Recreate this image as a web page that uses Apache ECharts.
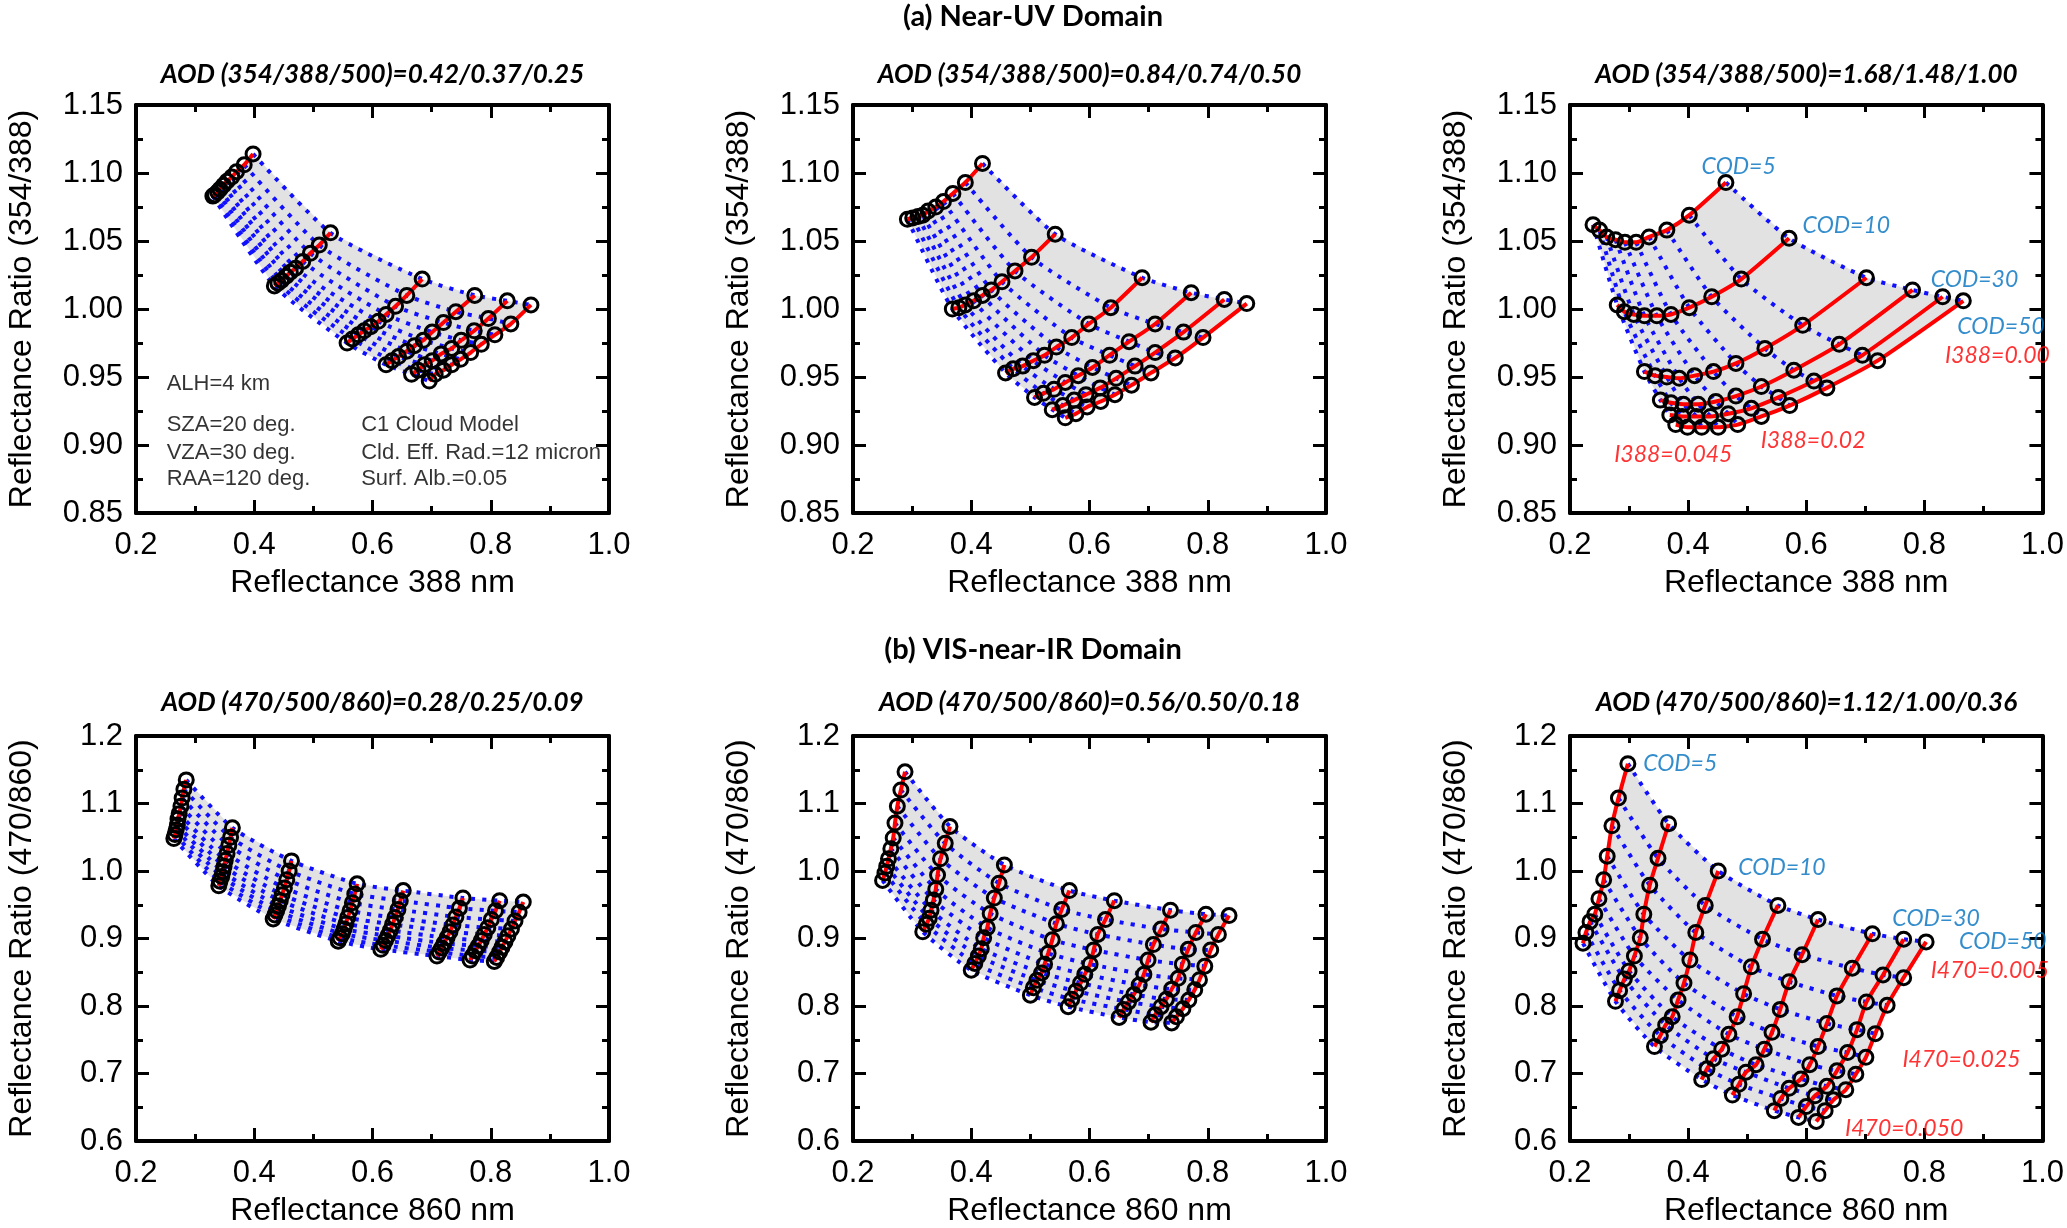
<!DOCTYPE html>
<html>
<head>
<meta charset="utf-8">
<script src="https://cdn.jsdelivr.net/npm/echarts@6.0.0/dist/echarts.min.js"></script>
<style>
html, body { margin: 0; padding: 0; background: #fff; }
#main { width: 2067px; height: 1228px; }
</style>
</head>
<body>
<div id="main"></div>
<script>
// one inner array per COD curve, points from the smallest absorption index to the largest

// (a) near-UV, AOD 0.42/0.37/0.25
var uvAx = [
    [0.398, 0.383, 0.370, 0.362, 0.354, 0.348, 0.342, 0.338, 0.333, 0.330],
    [0.529, 0.510, 0.495, 0.482, 0.470, 0.461, 0.454, 0.446, 0.440, 0.434],
    [0.684, 0.658, 0.639, 0.623, 0.610, 0.597, 0.586, 0.576, 0.566, 0.557],
    [0.773, 0.741, 0.720, 0.701, 0.686, 0.671, 0.658, 0.644, 0.633, 0.623],
    [0.828, 0.796, 0.772, 0.750, 0.734, 0.716, 0.701, 0.688, 0.677, 0.666],
    [0.868, 0.834, 0.807, 0.784, 0.766, 0.749, 0.734, 0.720, 0.706, 0.696]
];
var uvAy = [
    [1.114, 1.106, 1.101, 1.097, 1.094, 1.091, 1.088, 1.086, 1.084, 1.083],
    [1.056, 1.047, 1.041, 1.035, 1.030, 1.027, 1.024, 1.021, 1.019, 1.017],
    [1.022, 1.010, 1.002, 0.996, 0.991, 0.987, 0.984, 0.981, 0.978, 0.975],
    [1.010, 0.998, 0.990, 0.983, 0.977, 0.973, 0.969, 0.965, 0.962, 0.959],
    [1.006, 0.993, 0.984, 0.977, 0.971, 0.967, 0.962, 0.959, 0.955, 0.952],
    [1.003, 0.989, 0.981, 0.974, 0.968, 0.963, 0.959, 0.955, 0.952, 0.947]
];

// (a) near-UV, AOD 0.84/0.74/0.50
var uvBx = [
    [0.419, 0.390, 0.369, 0.353, 0.340, 0.327, 0.318, 0.310, 0.301, 0.292],
    [0.542, 0.502, 0.474, 0.452, 0.434, 0.419, 0.404, 0.390, 0.379, 0.368],
    [0.689, 0.636, 0.599, 0.570, 0.544, 0.524, 0.505, 0.487, 0.471, 0.458],
    [0.772, 0.711, 0.667, 0.634, 0.605, 0.581, 0.559, 0.540, 0.522, 0.507],
    [0.828, 0.759, 0.711, 0.677, 0.645, 0.618, 0.594, 0.574, 0.555, 0.537],
    [0.866, 0.792, 0.745, 0.704, 0.671, 0.643, 0.619, 0.596, 0.577, 0.559]
];
var uvBy = [
    [1.107, 1.093, 1.085, 1.079, 1.075, 1.072, 1.069, 1.068, 1.067, 1.066],
    [1.055, 1.038, 1.028, 1.020, 1.014, 1.010, 1.006, 1.003, 1.001, 1.000],
    [1.023, 1.001, 0.989, 0.979, 0.972, 0.966, 0.962, 0.958, 0.956, 0.953],
    [1.012, 0.989, 0.976, 0.966, 0.957, 0.951, 0.946, 0.941, 0.938, 0.935],
    [1.007, 0.983, 0.968, 0.958, 0.949, 0.942, 0.937, 0.933, 0.929, 0.926],
    [1.004, 0.979, 0.964, 0.953, 0.944, 0.937, 0.932, 0.928, 0.923, 0.920]
];

// (a) near-UV, AOD 1.68/1.48/1.00
var uvCx = [
    [0.464, 0.402, 0.364, 0.334, 0.312, 0.293, 0.277, 0.262, 0.250, 0.239],
    [0.571, 0.490, 0.440, 0.402, 0.371, 0.347, 0.326, 0.308, 0.292, 0.280],
    [0.702, 0.594, 0.530, 0.481, 0.443, 0.411, 0.385, 0.364, 0.344, 0.326],
    [0.780, 0.656, 0.579, 0.524, 0.481, 0.447, 0.417, 0.392, 0.371, 0.353],
    [0.831, 0.695, 0.613, 0.553, 0.507, 0.468, 0.438, 0.414, 0.390, 0.369],
    [0.866, 0.721, 0.635, 0.572, 0.524, 0.484, 0.451, 0.423, 0.399, 0.379]
];
var uvCy = [
    [1.093, 1.069, 1.058, 1.053, 1.049, 1.049, 1.051, 1.053, 1.058, 1.062],
    [1.052, 1.022, 1.009, 1.001, 0.996, 0.995, 0.995, 0.996, 0.998, 1.003],
    [1.023, 0.988, 0.971, 0.960, 0.954, 0.951, 0.949, 0.950, 0.951, 0.954],
    [1.014, 0.974, 0.955, 0.943, 0.936, 0.932, 0.930, 0.930, 0.931, 0.933],
    [1.009, 0.966, 0.947, 0.935, 0.927, 0.923, 0.921, 0.921, 0.921, 0.922],
    [1.006, 0.962, 0.942, 0.929, 0.921, 0.915, 0.913, 0.913, 0.913, 0.915]
];

// (b) VIS-near-IR, AOD 0.28/0.25/0.09
var visAx = [
    [0.285, 0.281, 0.278, 0.276, 0.273, 0.271, 0.270, 0.268, 0.266, 0.264],
    [0.363, 0.360, 0.357, 0.354, 0.351, 0.349, 0.347, 0.345, 0.342, 0.340],
    [0.463, 0.459, 0.455, 0.451, 0.447, 0.444, 0.441, 0.438, 0.435, 0.432],
    [0.574, 0.570, 0.566, 0.562, 0.558, 0.555, 0.552, 0.549, 0.545, 0.542],
    [0.652, 0.647, 0.643, 0.638, 0.634, 0.630, 0.626, 0.622, 0.618, 0.614],
    [0.753, 0.747, 0.741, 0.736, 0.731, 0.726, 0.721, 0.717, 0.713, 0.709],
    [0.815, 0.808, 0.801, 0.795, 0.789, 0.784, 0.779, 0.774, 0.769, 0.765],
    [0.855, 0.848, 0.841, 0.835, 0.829, 0.824, 0.819, 0.815, 0.810, 0.806]
];
var visAy = [
    [1.135, 1.121, 1.108, 1.096, 1.085, 1.077, 1.068, 1.061, 1.054, 1.048],
    [1.064, 1.050, 1.038, 1.026, 1.016, 1.007, 0.999, 0.992, 0.985, 0.978],
    [1.015, 1.000, 0.987, 0.975, 0.965, 0.956, 0.948, 0.941, 0.935, 0.929],
    [0.981, 0.966, 0.953, 0.941, 0.931, 0.922, 0.914, 0.907, 0.901, 0.896],
    [0.971, 0.956, 0.943, 0.931, 0.921, 0.912, 0.904, 0.897, 0.890, 0.884],
    [0.960, 0.945, 0.932, 0.920, 0.910, 0.901, 0.893, 0.886, 0.880, 0.874],
    [0.956, 0.941, 0.928, 0.916, 0.906, 0.897, 0.889, 0.882, 0.874, 0.868],
    [0.954, 0.939, 0.926, 0.914, 0.904, 0.895, 0.887, 0.880, 0.872, 0.866]
];

// (b) VIS-near-IR, AOD 0.56/0.50/0.18
var visBx = [
    [0.288, 0.281, 0.275, 0.271, 0.268, 0.264, 0.260, 0.257, 0.254, 0.250],
    [0.364, 0.356, 0.348, 0.343, 0.340, 0.336, 0.332, 0.329, 0.324, 0.318],
    [0.456, 0.447, 0.439, 0.432, 0.427, 0.421, 0.417, 0.412, 0.406, 0.400],
    [0.566, 0.553, 0.544, 0.537, 0.530, 0.524, 0.519, 0.511, 0.505, 0.500],
    [0.642, 0.627, 0.614, 0.607, 0.601, 0.592, 0.585, 0.577, 0.570, 0.564],
    [0.737, 0.721, 0.708, 0.699, 0.692, 0.684, 0.675, 0.666, 0.658, 0.650],
    [0.797, 0.780, 0.767, 0.757, 0.750, 0.739, 0.730, 0.721, 0.711, 0.704],
    [0.836, 0.818, 0.805, 0.795, 0.786, 0.778, 0.768, 0.758, 0.747, 0.739]
];
var visBy = [
    [1.147, 1.120, 1.096, 1.071, 1.049, 1.033, 1.018, 1.007, 0.997, 0.986],
    [1.066, 1.041, 1.018, 0.994, 0.973, 0.957, 0.942, 0.930, 0.921, 0.910],
    [1.009, 0.982, 0.960, 0.937, 0.916, 0.901, 0.885, 0.874, 0.863, 0.853],
    [0.971, 0.943, 0.922, 0.898, 0.878, 0.862, 0.849, 0.838, 0.827, 0.816],
    [0.956, 0.928, 0.906, 0.883, 0.862, 0.847, 0.834, 0.822, 0.810, 0.799],
    [0.942, 0.914, 0.891, 0.868, 0.847, 0.831, 0.817, 0.806, 0.795, 0.783],
    [0.936, 0.909, 0.884, 0.862, 0.841, 0.825, 0.810, 0.799, 0.787, 0.776],
    [0.934, 0.906, 0.883, 0.859, 0.839, 0.824, 0.809, 0.796, 0.784, 0.775]
];

// (b) VIS-near-IR, AOD 1.12/1.00/0.36
var visCx = [
    [0.298, 0.282, 0.271, 0.263, 0.257, 0.249, 0.242, 0.234, 0.227, 0.222],
    [0.367, 0.349, 0.335, 0.325, 0.319, 0.309, 0.300, 0.292, 0.284, 0.277],
    [0.451, 0.429, 0.413, 0.403, 0.393, 0.383, 0.373, 0.362, 0.353, 0.343],
    [0.552, 0.526, 0.507, 0.494, 0.483, 0.469, 0.457, 0.443, 0.432, 0.423],
    [0.620, 0.593, 0.571, 0.556, 0.542, 0.529, 0.515, 0.498, 0.486, 0.475],
    [0.712, 0.678, 0.652, 0.635, 0.620, 0.606, 0.591, 0.571, 0.557, 0.546],
    [0.765, 0.730, 0.702, 0.686, 0.670, 0.652, 0.635, 0.615, 0.600, 0.587],
    [0.803, 0.765, 0.737, 0.717, 0.701, 0.684, 0.667, 0.646, 0.632, 0.617]
];
var visCy = [
    [1.159, 1.108, 1.067, 1.022, 0.987, 0.959, 0.936, 0.925, 0.909, 0.893],
    [1.070, 1.019, 0.979, 0.936, 0.901, 0.874, 0.852, 0.840, 0.823, 0.807],
    [1.000, 0.949, 0.909, 0.868, 0.834, 0.809, 0.784, 0.772, 0.756, 0.740],
    [0.949, 0.899, 0.858, 0.818, 0.784, 0.758, 0.736, 0.722, 0.707, 0.691],
    [0.928, 0.876, 0.836, 0.795, 0.761, 0.736, 0.713, 0.702, 0.684, 0.668],
    [0.907, 0.856, 0.815, 0.774, 0.740, 0.713, 0.692, 0.678, 0.663, 0.645],
    [0.899, 0.846, 0.806, 0.765, 0.731, 0.704, 0.681, 0.667, 0.651, 0.635],
    [0.895, 0.842, 0.801, 0.759, 0.724, 0.699, 0.676, 0.661, 0.645, 0.629]
];

// text notes inside the panels: text, x, y, kind
var uvANotes = [
    ['ALH=4 km', 0.251, 0.945, 'k'],
    ['SZA=20 deg.', 0.251, 0.915, 'k'],
    ['VZA=30 deg.', 0.251, 0.894, 'k'],
    ['RAA=120 deg.', 0.251, 0.875, 'k'],
    ['C1 Cloud Model', 0.580, 0.915, 'k'],
    ['Cld. Eff. Rad.=12 micron', 0.580, 0.894, 'k'],
    ['Surf. Alb.=0.05', 0.580, 0.875, 'k']
];
var uvCNotes = [
    ['COD=5', 0.422, 1.105, 'b'],
    ['COD=10', 0.593, 1.061, 'b'],
    ['COD=30', 0.810, 1.022, 'b'],
    ['COD=50', 0.855, 0.987, 'b'],
    ['I388=0.00', 0.834, 0.966, 'r'],
    ['I388=0.02', 0.522, 0.903, 'r'],
    ['I388=0.045', 0.274, 0.893, 'r']
];
var visCNotes = [
    ['COD=5', 0.323, 1.159, 'b'],
    ['COD=10', 0.484, 1.005, 'b'],
    ['COD=30', 0.745, 0.930, 'b'],
    ['COD=50', 0.858, 0.895, 'b'],
    ['I470=0.005', 0.810, 0.852, 'r'],
    ['I470=0.025', 0.762, 0.721, 'r'],
    ['I470=0.050', 0.665, 0.619, 'r']
];

var chart = echarts.init(document.getElementById('main'));

var gridLeft = [136, 853, 1570];
var gridTop = [105, 736];
var gridW = 473, gridH = 408;
var axisFont = 'Liberation Sans, Arial, sans-serif';
var noteColor = { k: '#000', b: '#0070c0', r: '#ff0000' };

var grids = [], xAxes = [], yAxes = [], series = [];

function boxAxis(gi, pos, min, max, step, digits, name, gap) {
    var showLabel = (pos == 'bottom' || pos == 'left');
    return {
        gridIndex: gi,
        type: 'value',
        position: pos,
        min: min,
        max: max,
        interval: step,
        axisLine: { show: true, onZero: false, lineStyle: { color: '#000', width: 4 } },
        axisTick: { show: true, inside: true, length: 13, lineStyle: { color: '#000', width: 3 } },
        minorTick: { show: true, splitNumber: 2, length: 7, lineStyle: { color: '#000', width: 3 } },
        splitLine: { show: false },
        axisLabel: {
            show: showLabel,
            color: '#000',
            fontSize: 31,
            fontFamily: axisFont,
            margin: pos == 'bottom' ? 17 : 13,
            formatter: function(v) { return v.toFixed(digits); }
        },
        name: showLabel ? name : '',
        nameLocation: 'middle',
        nameGap: gap,
        nameTextStyle: { color: '#000', fontSize: 32, fontFamily: axisFont }
    };
}

function addPanel(col, row, xs, ys, yMin, yMax, yStep, yDigits, xName, yName, notes) {
    var gi = grids.length;
    grids.push({ left: gridLeft[col], top: gridTop[row], width: gridW, height: gridH });
    xAxes.push(boxAxis(gi, 'bottom', 0.2, 1.0, 0.2, 1, xName, 54));
    xAxes.push(boxAxis(gi, 'top', 0.2, 1.0, 0.2, 1, '', 0));
    yAxes.push(boxAxis(gi, 'left', yMin, yMax, yStep, yDigits, yName, 98));
    yAxes.push(boxAxis(gi, 'right', yMin, yMax, yStep, yDigits, '', 0));
    var xi = 2 * gi, yi = 2 * gi;
    var n = xs.length, m = xs[0].length;

    // outline of the whole lookup mesh for the grey fill
    var poly = [];
    var k, j;
    for (j = 0; j < m; j++) poly.push([xs[0][j], ys[0][j]]);
    for (k = 1; k < n; k++) poly.push([xs[k][m - 1], ys[k][m - 1]]);
    for (j = m - 2; j >= 0; j--) poly.push([xs[n - 1][j], ys[n - 1][j]]);
    for (k = n - 2; k > 0; k--) poly.push([xs[k][0], ys[k][0]]);

    series.push({
        type: 'custom',
        xAxisIndex: xi,
        yAxisIndex: yi,
        silent: true,
        z: 1,
        data: [poly[0]],
        renderItem: function(params, api) {
            return {
                type: 'polygon',
                shape: { points: poly.map(function(p) { return api.coord(p); }) },
                style: { fill: '#e2e2e2' }
            };
        }
    });

    // blue dotted lines: same absorption index across COD curves
    for (j = 0; j < m; j++) {
        series.push({
            type: 'line',
            xAxisIndex: xi,
            yAxisIndex: yi,
            silent: true,
            z: 2,
            smooth: 0.2,
            symbol: 'none',
            lineStyle: { color: '#1010ff', width: 4, type: [4, 7] },
            data: xs.map(function(line, kk) { return [line[j], ys[kk][j]]; })
        });
    }

    // red curves with black circles: one per COD
    for (k = 0; k < n; k++) {
        series.push({
            type: 'line',
            xAxisIndex: xi,
            yAxisIndex: yi,
            silent: true,
            z: 3,
            smooth: 0.2,
            symbol: 'circle',
            symbolSize: 14,
            showAllSymbol: true,
            lineStyle: { color: '#ff0000', width: 4 },
            itemStyle: { color: 'rgba(0,0,0,0)', borderColor: '#000', borderWidth: 3 },
            data: xs[k].map(function(x, jj) { return [x, ys[k][jj]]; })
        });
    }

    if (notes) {
        series.push({
            type: 'scatter',
            xAxisIndex: xi,
            yAxisIndex: yi,
            silent: true,
            z: 5,
            symbolSize: 1,
            itemStyle: { color: 'rgba(0,0,0,0)' },
            data: notes.map(function(t) {
                var plain = t[3] == 'k';
                return {
                    name: t[0],
                    value: [t[1], t[2]],
                    label: {
                        color: noteColor[t[3]],
                        fontStyle: plain ? 'normal' : 'italic',
                        fontFamily: plain ? axisFont : 'Lato, sans-serif',
                        fontSize: plain ? 22 : 23
                    }
                };
            }),
            label: { show: true, position: 'right', distance: 0, formatter: '{b}' }
        });
    }
}

addPanel(0, 0, uvAx, uvAy, 0.85, 1.15, 0.05, 2, 'Reflectance 388 nm', 'Reflectance Ratio (354/388)', uvANotes);
addPanel(1, 0, uvBx, uvBy, 0.85, 1.15, 0.05, 2, 'Reflectance 388 nm', 'Reflectance Ratio (354/388)', null);
addPanel(2, 0, uvCx, uvCy, 0.85, 1.15, 0.05, 2, 'Reflectance 388 nm', 'Reflectance Ratio (354/388)', uvCNotes);
addPanel(0, 1, visAx, visAy, 0.6, 1.2, 0.1, 1, 'Reflectance 860 nm', 'Reflectance Ratio (470/860)', null);
addPanel(1, 1, visBx, visBy, 0.6, 1.2, 0.1, 1, 'Reflectance 860 nm', 'Reflectance Ratio (470/860)', null);
addPanel(2, 1, visCx, visCy, 0.6, 1.2, 0.1, 1, 'Reflectance 860 nm', 'Reflectance Ratio (470/860)', visCNotes);

var panelTitles = [
    'AOD (354/388/500)=0.42/0.37/0.25',
    'AOD (354/388/500)=0.84/0.74/0.50',
    'AOD (354/388/500)=1.68/1.48/1.00',
    'AOD (470/500/860)=0.28/0.25/0.09',
    'AOD (470/500/860)=0.56/0.50/0.18',
    'AOD (470/500/860)=1.12/1.00/0.36'
];

var graphics = [
    { type: 'text', x: 1033, y: 17, style: { text: '(a) Near-UV Domain', align: 'center', verticalAlign: 'middle', font: 'bold 29px Lato, sans-serif', fill: '#000' } },
    { type: 'text', x: 1033, y: 650, style: { text: '(b) VIS-near-IR Domain', align: 'center', verticalAlign: 'middle', font: 'bold 29px Lato, sans-serif', fill: '#000' } }
];
panelTitles.forEach(function(t, i) {
    var col = i % 3, row = Math.floor(i / 3);
    graphics.push({
        type: 'text',
        x: gridLeft[col] + gridW / 2,
        y: row == 0 ? 75 : 703,
        style: { text: t, align: 'center', verticalAlign: 'middle', font: 'italic bold 26px Lato, sans-serif', fill: '#000' }
    });
});

chart.setOption({
    animation: false,
    backgroundColor: '#fff',
    grid: grids,
    xAxis: xAxes,
    yAxis: yAxes,
    series: series,
    graphic: graphics
});
</script>
</body>
</html>
